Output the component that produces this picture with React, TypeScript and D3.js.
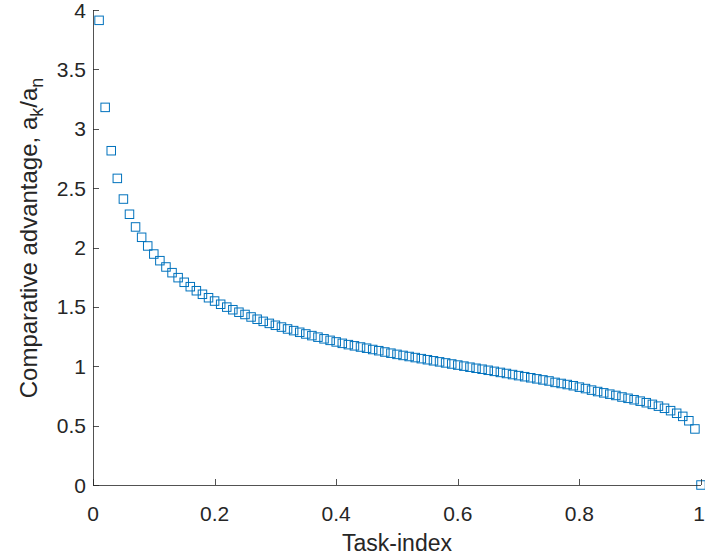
import React from "react"
import * as d3 from "d3"

// task index (x) and comparative advantage a_k/a_n (y)
const taskIndex = [
	0.01, 0.02, 0.03, 0.04, 0.05, 0.06, 0.07, 0.08, 0.09, 0.1,
	0.11, 0.12, 0.13, 0.14, 0.15, 0.16, 0.17, 0.18, 0.19, 0.2,
	0.21, 0.22, 0.23, 0.24, 0.25, 0.26, 0.27, 0.28, 0.29, 0.3,
	0.31, 0.32, 0.33, 0.34, 0.35, 0.36, 0.37, 0.38, 0.39, 0.4,
	0.41, 0.42, 0.43, 0.44, 0.45, 0.46, 0.47, 0.48, 0.49, 0.5,
	0.51, 0.52, 0.53, 0.54, 0.55, 0.56, 0.57, 0.58, 0.59, 0.6,
	0.61, 0.62, 0.63, 0.64, 0.65, 0.66, 0.67, 0.68, 0.69, 0.7,
	0.71, 0.72, 0.73, 0.74, 0.75, 0.76, 0.77, 0.78, 0.79, 0.8,
	0.81, 0.82, 0.83, 0.84, 0.85, 0.86, 0.87, 0.88, 0.89, 0.9,
	0.91, 0.92, 0.93, 0.94, 0.95, 0.96, 0.97, 0.98, 0.99, 1.0,
]
const advantage = [
	3.913, 3.18, 2.815, 2.582, 2.408, 2.28, 2.173, 2.086, 2.013, 1.945,
	1.889, 1.836, 1.788, 1.746, 1.707, 1.67, 1.636, 1.606, 1.577, 1.549,
	1.522, 1.498, 1.476, 1.455, 1.436, 1.415, 1.396, 1.378, 1.361, 1.345,
	1.33, 1.314, 1.3, 1.286, 1.272, 1.258, 1.245, 1.231, 1.218, 1.205,
	1.193, 1.182, 1.172, 1.162, 1.152, 1.141, 1.131, 1.12, 1.11, 1.1,
	1.091, 1.082, 1.073, 1.064, 1.055, 1.046, 1.037, 1.028, 1.019, 1.01,
	1.001, 0.992, 0.983, 0.975, 0.966, 0.957, 0.948, 0.939, 0.93, 0.921,
	0.912, 0.903, 0.894, 0.885, 0.876, 0.864, 0.855, 0.846, 0.836, 0.824,
	0.812, 0.799, 0.787, 0.776, 0.765, 0.754, 0.741, 0.73, 0.718, 0.706,
	0.693, 0.679, 0.664, 0.646, 0.626, 0.604, 0.578, 0.541, 0.472, 0.0,
]
const xTicks = [0, 0.2, 0.4, 0.6, 0.8, 1]
const yTicks = [0, 0.5, 1, 1.5, 2, 2.5, 3, 3.5, 4]

const width = 705
const height = 556
const left = 93
const right = 701
const top = 10
const bottom = 485

export default function App() {
	const x = d3.scaleLinear().domain([0, 1]).range([left, right])
	const y = d3.scaleLinear().domain([0, 4]).range([bottom, top])
	const font = "'Liberation Sans', Arial, Helvetica, sans-serif"
	const axisColor = "#262626"
	const blue = "#0072BD"
	const ms = 8.5
	const tickLen = 6

	return (
		<svg
			width={width}
			height={height}
			style={{ position: "absolute", left: 0, top: 0, background: "#fff" }}
			fontFamily={font}
		>
			{/* markers */}
			<g fill="none" stroke={blue} strokeWidth={1}>
				{taskIndex.map((t, i) => (
					<rect
						key={i}
						x={x(t) - ms / 2}
						y={y(advantage[i]) - ms / 2}
						width={ms}
						height={ms}
					/>
				))}
			</g>

			{/* axes */}
			<g stroke={axisColor} strokeWidth={0.8} fill="none">
				<line x1={left} x2={right} y1={bottom + 0.5} y2={bottom + 0.5} />
				<line x1={left + 0.5} x2={left + 0.5} y1={top} y2={bottom} />
				{xTicks.map(t => (
					<line
						key={"xt" + t}
						x1={Math.round(x(t)) + 0.5}
						x2={Math.round(x(t)) + 0.5}
						y1={bottom}
						y2={bottom - tickLen}
					/>
				))}
				{yTicks.map(t => (
					<line
						key={"yt" + t}
						x1={left}
						x2={left + tickLen}
						y1={Math.round(y(t)) + 0.5}
						y2={Math.round(y(t)) + 0.5}
					/>
				))}
			</g>

			{/* tick labels */}
			<g fill={axisColor} fontSize={21}>
				{xTicks.map(t => (
					<text
						key={"xl" + t}
						x={Math.min(x(t), width - 6)}
						y={bottom + 36}
						textAnchor="middle"
					>
						{String(t)}
					</text>
				))}
				{yTicks.map(t => (
					<text key={"yl" + t} x={left - 7} y={y(t) + 7.5} textAnchor="end">
						{String(t)}
					</text>
				))}
			</g>

			{/* axis titles */}
			<text
				x={(left + right) / 2}
				y={551}
				textAnchor="middle"
				fontSize={23}
				fill={axisColor}
			>
				Task-index
			</text>
			<text
				transform={`translate(37, 238) rotate(-90)`}
				textAnchor="middle"
				fontSize={24}
				fill={axisColor}
			>
				Comparative advantage, a
				<tspan fontSize={18} dy={6}>k</tspan>
				<tspan dy={-6}>/a</tspan>
				<tspan fontSize={18} dy={6}>n</tspan>
			</text>
		</svg>
	)
}
